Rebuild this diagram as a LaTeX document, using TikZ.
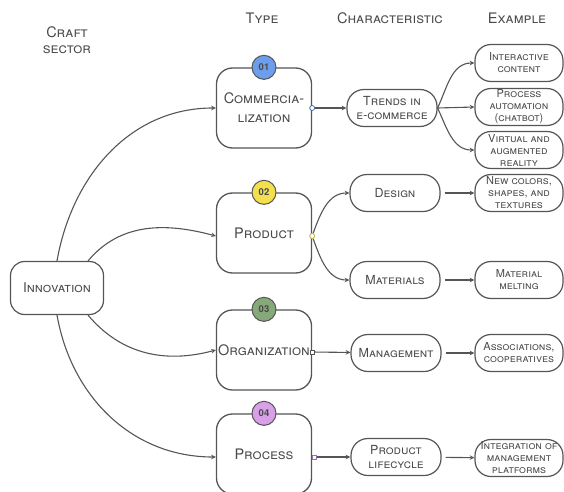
\documentclass[tikz,border=0pt]{standalone}
\usepackage{fontspec}
\setmainfont{TeX Gyre Heros}
\usetikzlibrary{positioning}
\usetikzlibrary{shapes, arrows}
\definecolor{ink}{HTML}{4A4A4A}
\definecolor{linegray}{HTML}{555555}
\definecolor{badgeblue}{HTML}{6D9EEB}
\definecolor{badgeyellow}{HTML}{F4E04D}
\definecolor{badgegreen}{HTML}{86A97A}
\definecolor{badgeviolet}{HTML}{D9A0EA}
\tikzstyle{root}    = [rectangle, rounded corners=14pt, draw=linegray, line width=1.2pt,
                       minimum width=93pt, minimum height=53pt, inner sep=0pt,
                       font=\fontsize{13.5}{15}\selectfont\scshape, text=ink, align=center]
\tikzstyle{typebox} = [rectangle, rounded corners=16pt, draw=linegray, line width=1.3pt,
                       minimum width=95pt, minimum height=80pt, inner sep=0pt,
                       font=\fontsize{14.5}{19}\selectfont\scshape, text=ink, align=center]
\tikzstyle{badge}   = [circle, draw=linegray, line width=1pt, minimum size=24pt, inner sep=0pt,
                       font=\fontsize{9.5}{9.5}\selectfont\bfseries, text=ink]
\tikzstyle{port}    = [circle, line width=0.8pt, fill=white, minimum size=5pt, inner sep=0pt]
\tikzstyle{trait}   = [rectangle, rounded corners=17pt, draw=linegray, line width=1.2pt,
                       minimum width=90pt, minimum height=37pt, inner sep=0pt,
                       font=\fontsize{12.5}{14.5}\selectfont\scshape, text=ink, align=center]
\tikzstyle{sample}  = [rectangle, rounded corners=16pt, draw=linegray, line width=1.2pt,
                       minimum width=88pt, minimum height=37pt, inner sep=0pt,
                       font=\fontsize{11}{12}\selectfont\scshape, text=ink, align=center]
\tikzstyle{heading} = [font=\fontsize{14.5}{17}\selectfont\scshape, text=ink, align=center]
\tikzstyle{arrow}   = [draw=linegray, line width=1.1pt, ->, >=stealth]
\begin{document}
\begin{tikzpicture}[x=1pt, y=1pt]
\useasboundingbox (0,0) rectangle (564,491);
% column titles
\node (craft) [heading] at (67,451) {Craft\\[-1pt]sector};
\node (type) [heading] at (262,473) {Type};
\node (characteristic) [heading] at (390,473) {Characteristic};
\node (example) [heading] at (517,473) {Example};
% root and types
\node (innovation) [root] at (57,203) {Innovation};
\node (commercialization) [typebox] at (264,383) {Commercia-\\lization};
\node (product) [typebox] at (264,258) {Product};
\node (organization) [typebox] at (264,141) {Organization};
\node (process) [typebox] at (264,37) {Process};
\node (badge 01) [badge, fill=badgeblue] at (commercialization.north) {01};
\node (badge 02) [badge, fill=badgeyellow] at (product.north) {02};
\node (badge 03) [badge, fill=badgegreen] at (organization.north) {03};
\node (badge 04) [badge, fill=badgeviolet] at (process.north) {04};
\node (port 01) [port, draw=badgeblue!70!black] at (commercialization.east) {};
\node (port 02) [port, draw=badgeyellow!80!black] at ([yshift=-3pt]product.east) {};
\node (port 03) [port, rectangle, draw=linegray, minimum size=4pt] at ([yshift=-2pt]organization.east) {};
\node (port 04) [port, rectangle, draw=badgeviolet!70!black, minimum size=4pt, xshift=2pt] at ([yshift=-3pt]process.east) {};
% characteristics
\node (trends) [trait] at (392,383) {Trends in\\e-commerce};
\node (design) [trait] at (395,298) {Design};
\node (materials) [trait] at (395,211) {Materials};
\node (management) [trait] at (396,138) {Management};
\node (lifecycle) [trait] at (396,34) {Product\\lifecycle};
% examples
\node (interactive) [sample] at (519,428) {Interactive\\content};
\node (automation) [sample] at (519,384) {Process\\automation\\(chatbot)};
\node (virtual) [sample] at (519,341) {Virtual and\\augmented\\reality};
\node (new colors) [sample] at (519,298) {New colors,\\shapes, and\\textures};
\node (melting) [sample] at (519,211) {Material\\melting};
\node (associations) [sample] at (519,138) {Associations,\\cooperatives};
\node (integration) [sample] at (519,33) {Integration of\\management\\platforms};
\draw [arrow] (innovation.north) to[out=80, in=180] (commercialization.west);
\draw [arrow] ([xshift=31pt]innovation.north) to[out=50, in=165] ([yshift=-3pt]product.west);
\draw [arrow] ([xshift=31pt]innovation.south) to[out=-50, in=195] (organization.west);
\draw [arrow] (innovation.south) to[out=-80, in=180] ([yshift=-3pt]process.west);
\draw [arrow] (port 01) -- (trends);
\draw [arrow] (port 02) to[out=70, in=180] (design.west);
\draw [arrow] (port 02) to[out=-70, in=180] (materials.west);
\draw [arrow] (port 03) -- (management);
\draw [arrow] (port 04) -- (lifecycle);
\draw [arrow] (trends.east) to[out=65, in=180] (interactive.west);
\draw [arrow] (trends.east) -- (automation.west);
\draw [arrow] (trends.east) to[out=-65, in=180] (virtual.west);
\draw [arrow, shorten <=4pt] (design) -- (new colors);
\draw [arrow, shorten <=4pt] (materials) -- (melting);
\draw [arrow, shorten <=4pt] (management) -- (associations);
\draw [arrow, shorten <=4pt] (lifecycle) -- (integration);
\end{tikzpicture}
\end{document}
